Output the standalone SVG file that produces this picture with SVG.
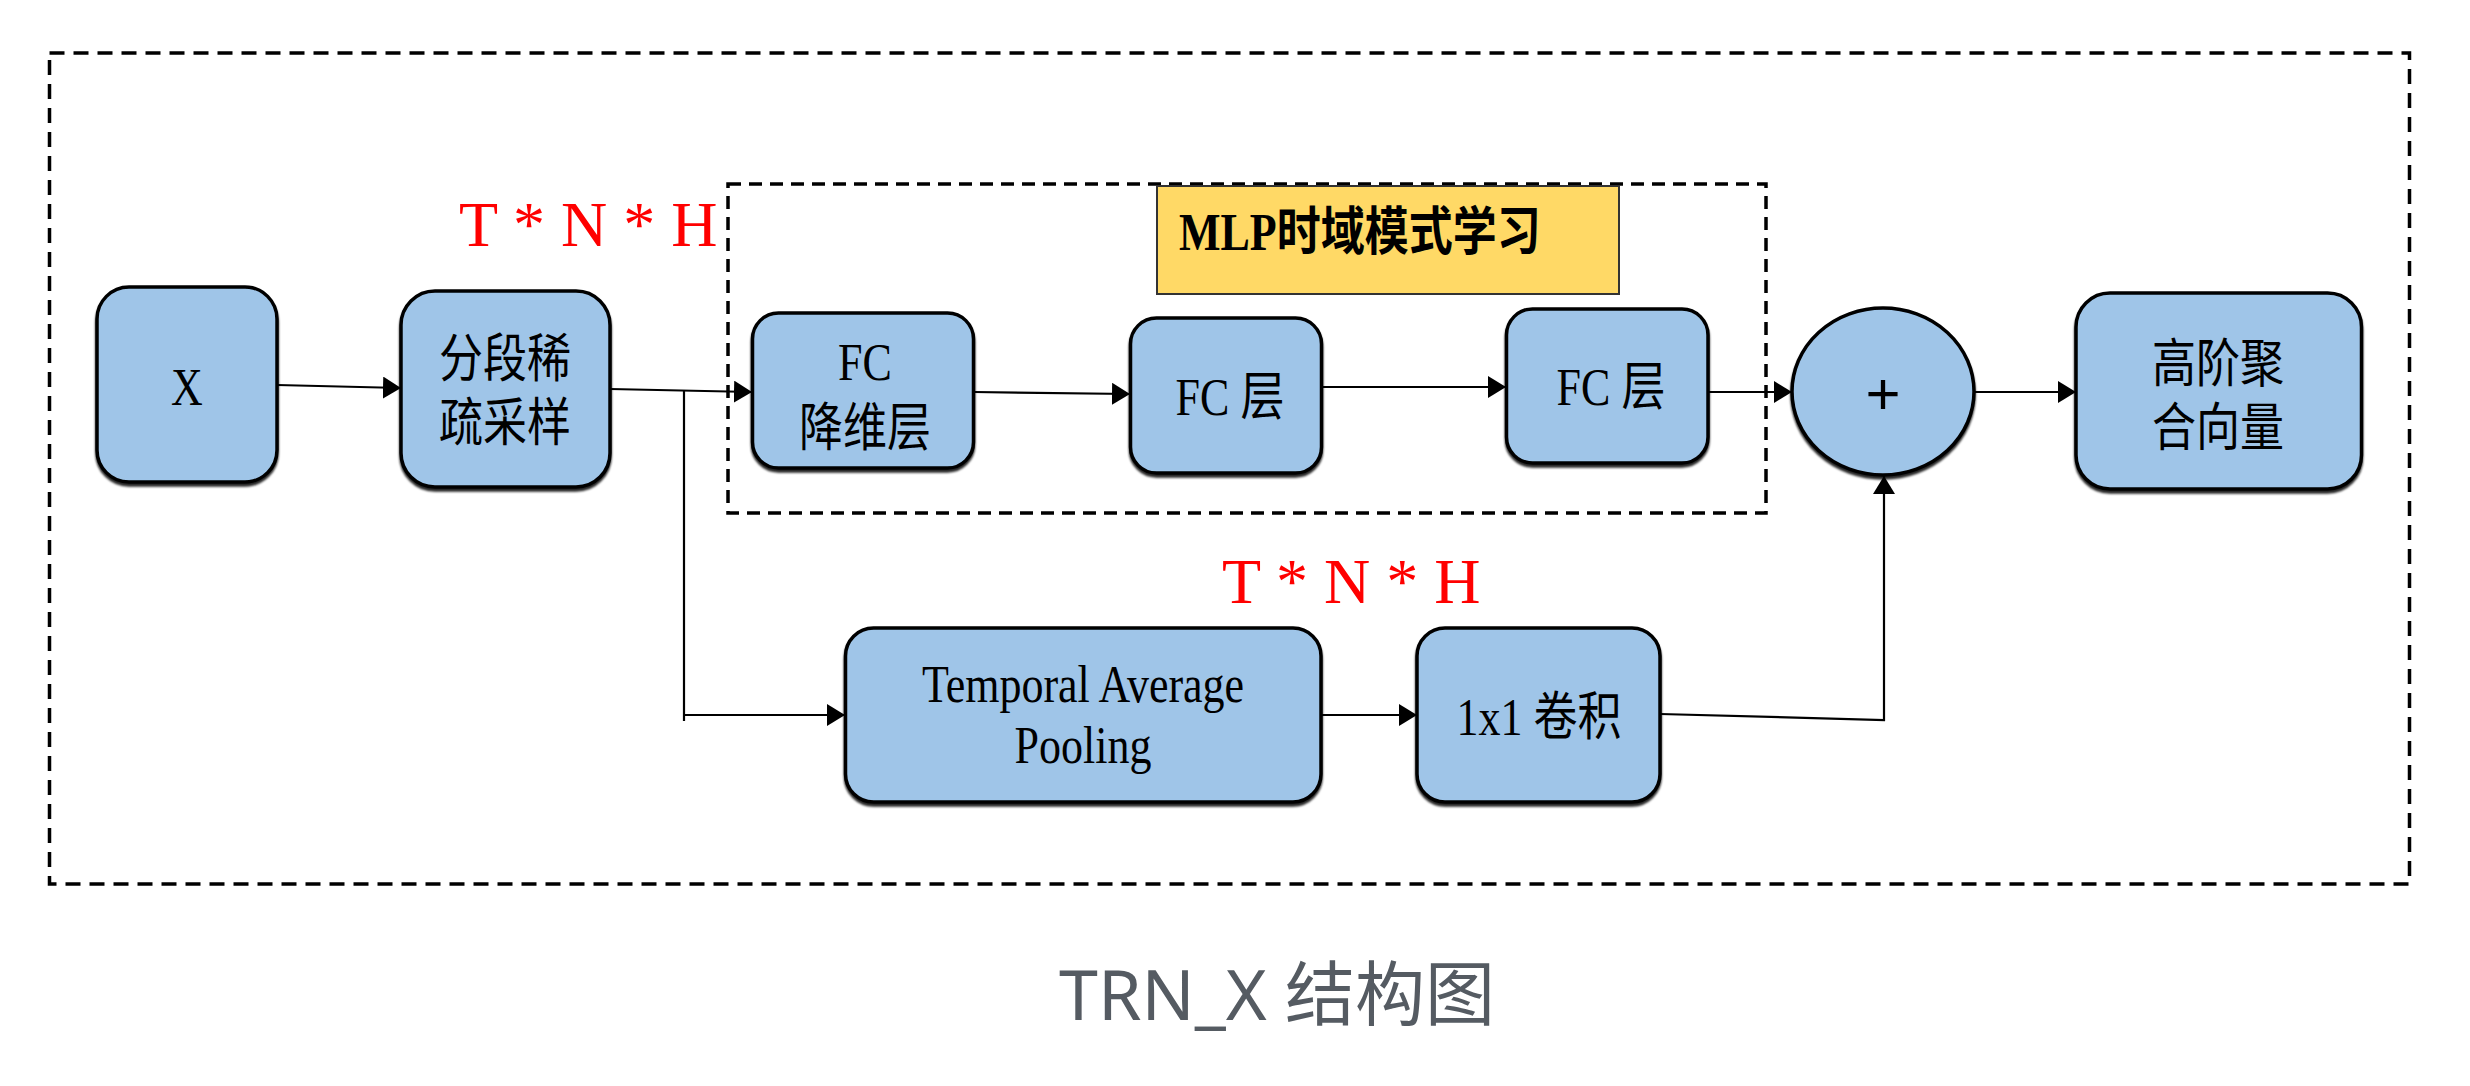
<svg xmlns="http://www.w3.org/2000/svg" width="2470" height="1086" viewBox="0 0 2470 1086">
<defs>
<style>
.box{fill:#9fc5e8;stroke:#000;stroke-width:3.5;filter:url(#sh)}
.lbl{font-family:"Liberation Serif","Noto Sans CJK SC",serif;font-size:44px;fill:#000;text-anchor:middle}
.dim{font-family:"Liberation Serif",serif;font-size:64px;fill:#ff0000}
.conn{fill:none;stroke:#000;stroke-width:2.2;marker-end:url(#ah)}
.frame{fill:none;stroke:#000;stroke-width:3.5;stroke-dasharray:15 9}
.frame2{fill:none;stroke:#000;stroke-width:3.5;stroke-dasharray:13 8}
</style>
<marker id="ah" markerUnits="userSpaceOnUse" markerWidth="20" markerHeight="24" refX="18" refY="11" orient="auto">
<path d="M0,0 L18,11 L0,22 z" fill="#000"/>
</marker>
<filter id="sh" x="-5%" y="-5%" width="110%" height="115%">
<feDropShadow dx="0" dy="3" stdDeviation="1" flood-color="#000" flood-opacity="0.85"/>
</filter>
</defs>
<rect width="2470" height="1086" fill="#fff"/>

<rect id="outer-frame" class="frame" x="49.5" y="53" width="2360" height="831"/>
<g id="mlp-group">
<rect class="frame2" x="728" y="184" width="1038" height="329"/>
<rect x="1157" y="186" width="462" height="108" fill="#ffd966" stroke="#333" stroke-width="2"/>
<text transform="translate(1179 250) scale(1 1.18)" style="font-family:'Liberation Serif','Noto Sans CJK SC',serif;font-size:44px;font-weight:bold;fill:#000">MLP时域模式学习</text>
</g>

<text class="dim" x="459" y="246">T * N * H</text>
<text class="dim" x="1222" y="603">T * N * H</text>

<g id="connectors">
<path class="conn" d="M277,385 L401,388"/>
<path class="conn" d="M610,389 L752,392"/>
<path class="conn" d="M684,391 V721 M684,715 H845"/>
<path class="conn" d="M974,392 L1130,394"/>
<path class="conn" d="M1321,387 L1506,387"/>
<path class="conn" d="M1708,392 L1792,392"/>
<path class="conn" d="M1974,392 L2076,392"/>
<path class="conn" d="M1321,715 L1417,715"/>
<path class="conn" d="M1660,714 L1884,720 V476"/>
</g>

<g id="node-x">
<rect class="box" x="97" y="287" width="180" height="195" rx="32"/>
<text class="lbl" transform="translate(187 405) scale(1 1.18)">X</text>
</g>
<g id="node-sample">
<rect class="box" x="401" y="291" width="209" height="196" rx="34"/>
<text class="lbl" transform="translate(505 377) scale(1 1.18)">分段稀</text>
<text class="lbl" transform="translate(505 441) scale(1 1.18)">疏采样</text>
</g>
<g id="node-fc1">
<rect class="box" x="752.5" y="313" width="221" height="155" rx="26"/>
<text class="lbl" transform="translate(865 380) scale(1 1.18)">FC</text>
<text class="lbl" transform="translate(865 446) scale(1 1.18)">降维层</text>
</g>
<g id="node-fc2">
<rect class="box" x="1130.5" y="318" width="191" height="155" rx="26"/>
<text class="lbl" transform="translate(1230 415) scale(1 1.18)">FC 层</text>
</g>
<g id="node-fc3">
<rect class="box" x="1506.5" y="309" width="201.5" height="154" rx="26"/>
<text class="lbl" transform="translate(1611 405) scale(1 1.18)">FC 层</text>
</g>
<g id="node-plus">
<ellipse class="box" cx="1883" cy="391.5" rx="91" ry="83.5"/>
<text x="1883" y="414" style="font-family:'Liberation Sans',sans-serif;font-size:60px;fill:#000;text-anchor:middle">+</text>
</g>
<g id="node-out">
<rect class="box" x="2076" y="293" width="285.5" height="196" rx="34"/>
<text class="lbl" transform="translate(2218 382) scale(1 1.18)">高阶聚</text>
<text class="lbl" transform="translate(2218 446) scale(1 1.18)">合向量</text>
</g>
<g id="node-tap">
<rect class="box" x="845.5" y="628" width="475.5" height="174" rx="28"/>
<text class="lbl" transform="translate(1083 702) scale(1 1.18)">Temporal Average</text>
<text class="lbl" transform="translate(1083 763) scale(1 1.18)">Pooling</text>
</g>
<g id="node-conv">
<rect class="box" x="1417" y="628" width="243" height="174" rx="28"/>
<text class="lbl" transform="translate(1539 735) scale(1 1.18)">1x1 卷积</text>
</g>

<text x="1277" y="1020" style="font-family:'Noto Sans','Noto Sans CJK SC',sans-serif;font-size:70px;fill:#555b62;text-anchor:middle">TRN_X 结构图</text>
</svg>
